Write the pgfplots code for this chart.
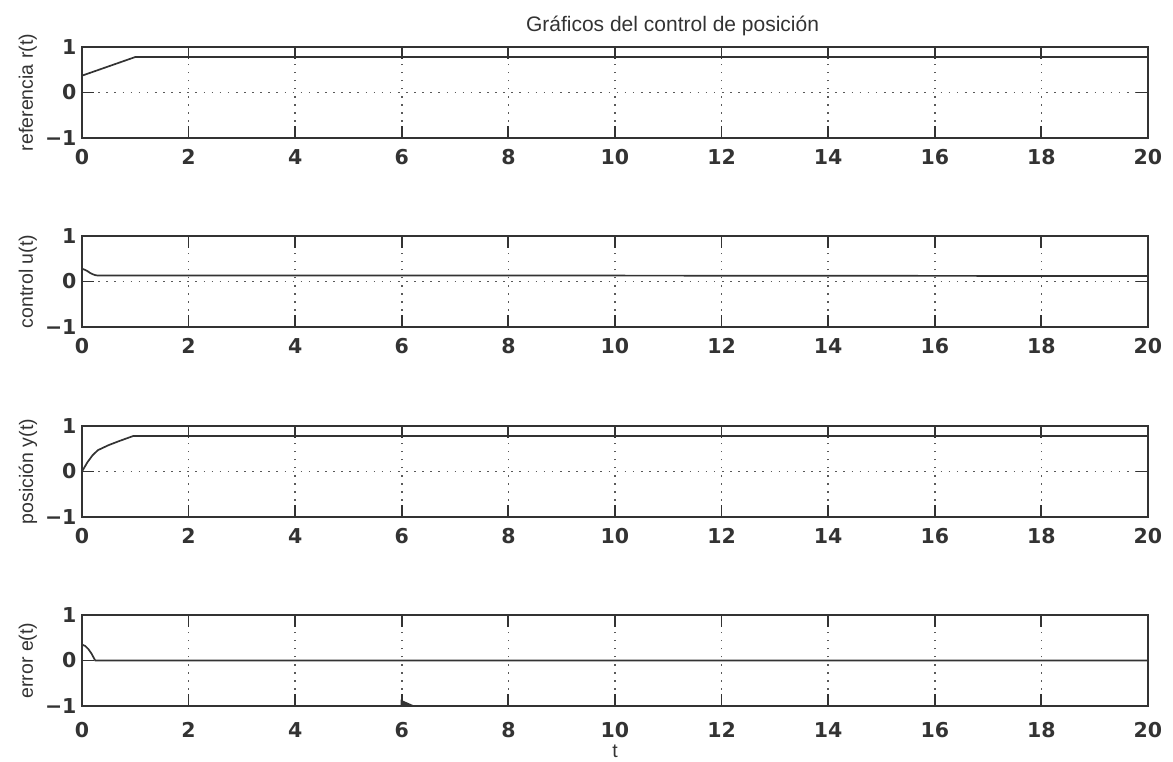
\documentclass[border=0pt]{standalone}
\usepackage{fontspec}
\setmainfont{Liberation Sans}
\newfontfamily\tickfont{DejaVu Sans}
\usepackage{pgfplots}
\pgfplotsset{compat=1.18}

\definecolor{ink}{HTML}{333333}

\pgfplotsset{
  panel/.style={
    scale only axis, width=1066pt, height=91pt,
    xmin=0, xmax=20, ymin=-1, ymax=1,
    xtick={0,2,...,20}, ytick={-1,0,1}, yticklabels={−1,0,1},
    tick align=inside, major tick length=12pt,
    grid=major,
    grid style={dash pattern=on 1.6pt off 6.5pt, gray!70!black, line width=1.6pt},
    axis line style={line width=1.8pt, ink},
    tick style={line width=1.8pt, ink},
    /pgf/number format/assume math mode=true,
    ticklabel style={font=\tickfont\bfseries\fontsize{20.5}{22}\selectfont, text=ink},
    xticklabel style={yshift=-8pt},
    yticklabel style={xshift=-2pt},
    ylabel style={font=\fontsize{19.5}{21}\selectfont, text=ink,
                  at={(axis description cs:-0.0507,0.5)}, anchor=center},
    every axis plot post/.append style={ink, line width=1.7pt, mark=none},
  }
}

\begin{document}
\begin{tikzpicture}
\useasboundingbox (0,0) rectangle (1173pt,-761pt);

% reference r(t)
\begin{axis}[panel, at={(82pt,-47pt)}, anchor=north west,
  ylabel={referencia r(t)},
  title={Gráficos del control de posición},
  title style={font=\fontsize{21}{23}\selectfont, text=ink,
               at={(axis description cs:0.554,1)}, anchor=base, yshift=10pt}]
\addplot coordinates {(0,0.37) (1,0.78) (20,0.78)};
\end{axis}

% control u(t)
\begin{axis}[panel, at={(82pt,-236pt)}, anchor=north west,
  ylabel={control u(t)}]
\addplot coordinates {(0,0.28) (0.05,0.26) (0.1,0.23) (0.15,0.19) (0.2,0.16)
  (0.25,0.14) (0.3,0.13) (10,0.13) (20,0.12)};
\end{axis}

% position y(t)
\begin{axis}[panel, at={(82pt,-426pt)}, anchor=north west,
  ylabel={posición y(t)}]
\addplot coordinates {(0,0) (0.1,0.2) (0.2,0.36) (0.3,0.47) (0.5,0.58)
  (0.7,0.67) (0.96,0.78) (20,0.78)};
\end{axis}

% error e(t)
\begin{axis}[panel, at={(82pt,-615pt)}, anchor=north west,
  ylabel={error e(t)}, xlabel={t},
  xticklabel style={yshift=-5pt},
  xlabel style={font=\fontsize{19.5}{21}\selectfont, text=ink,
                at={(axis description cs:0.5,0)}, anchor=base, yshift=-51pt}]
\addplot coordinates {(0,0.35) (0.06,0.32) (0.12,0.25) (0.18,0.15)
  (0.22,0.06) (0.25,0) (20,0)};
\addplot[fill=ink, draw=none] coordinates
  {(5.98,-1) (5.98,-0.86) (6.25,-1)} -- cycle;
\end{axis}
\end{tikzpicture}
\end{document}
